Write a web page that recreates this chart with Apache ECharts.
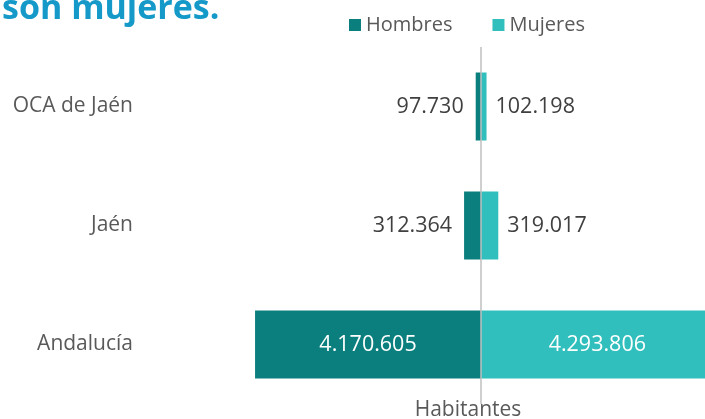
<!DOCTYPE html>
<html>
<head>
  <meta charset="utf-8">
  <title>ECharts</title>
  <script src="https://cdn.jsdelivr.net/npm/echarts@6/dist/echarts.min.js"></script>
  <style>
    html, body { margin: 0; padding: 0; background: #fff; }
  </style>
</head>
<body>
<div id="main" style="width: 705px; height: 419px;"></div>
<script type="text/javascript">
  // datos
  var categorias = ['OCA de Jaén', 'Jaén', 'Andalucía'];
  var hombres = [97730, 312364, 4170605];
  var mujeres = [102198, 319017, 4293806];
  var series_names = ['Hombres', 'Mujeres'];

  var colorH = '#0b7f7d';
  var colorM = '#30bfbc';
  var fuente = '"Open Sans", "Noto Sans", sans-serif';

  function fmt(v) {
    return Math.abs(v).toString().replace(/\B(?=(\d{3})+(?!\d))/g, '.');
  }

  // barras grandes llevan la etiqueta dentro, en blanco
  function items(arr, sign) {
    return arr.map(function (v) {
      var it = { value: sign * v };
      if (v > 1000000) {
        it.label = { position: 'inside', color: '#ffffff' };
      }
      return it;
    });
  }

  var myChart = echarts.init(document.getElementById('main'));
  var option = {
    animation: false,
    title: {
      text: 'son mujeres.',
      left: -3,
      top: -13,
      textStyle: { color: '#1599c8', fontSize: 34, fontWeight: 'bold', fontFamily: fuente }
    },
    legend: {
      data: series_names,
      left: 344,
      top: 10,
      itemWidth: 12,
      itemHeight: 12,
      itemGap: 40,
      icon: 'rect',
      textStyle: { color: '#595959', fontSize: 20, fontFamily: fuente }
    },
    grid: { left: 241, top: 47, width: 480, height: 357, containLabel: false, outerBoundsMode: 'none' },
    xAxis: {
      type: 'value',
      min: -4430000,
      max: 4430000,
      axisLabel: { show: false },
      axisLine: { show: false },
      axisTick: { show: false },
      splitLine: { show: false },
      name: 'Habitantes',
      nameLocation: 'middle',
      nameGap: -4,
      nameTextStyle: { color: '#595959', fontSize: 21, fontFamily: fuente, padding: [0, 26, 0, 0] }
    },
    yAxis: {
      type: 'category',
      inverse: true,
      data: categorias,
      axisLine: { show: false, onZero: false },
      axisTick: { show: false },
      axisLabel: { color: '#595959', fontSize: 21, fontFamily: fuente, margin: 108 }
    },
    series: [
      {
        name: series_names[0],
        type: 'bar',
        barWidth: 68,
        barGap: '-100%',
        itemStyle: { color: colorH },
        label: {
          show: true,
          position: 'left',
          distance: 12,
          color: '#404040',
          fontSize: 21.5,
          fontFamily: fuente,
          formatter: function (p) { return fmt(p.value); }
        },
        data: items(hombres, -1),
        markLine: {
          silent: true,
          symbol: 'none',
          label: { show: false },
          lineStyle: { color: '#bfbfbf', width: 1.5, type: 'solid' },
          data: [{ xAxis: 0 }]
        }
      },
      {
        name: series_names[1],
        type: 'bar',
        barWidth: 68,
        itemStyle: { color: colorM },
        label: {
          show: true,
          position: 'right',
          distance: 9,
          color: '#404040',
          fontSize: 21.5,
          fontFamily: fuente,
          formatter: function (p) { return fmt(p.value); }
        },
        data: items(mujeres, 1)
      }
    ]
  };
  myChart.setOption(option);
</script>
</body>
</html>
